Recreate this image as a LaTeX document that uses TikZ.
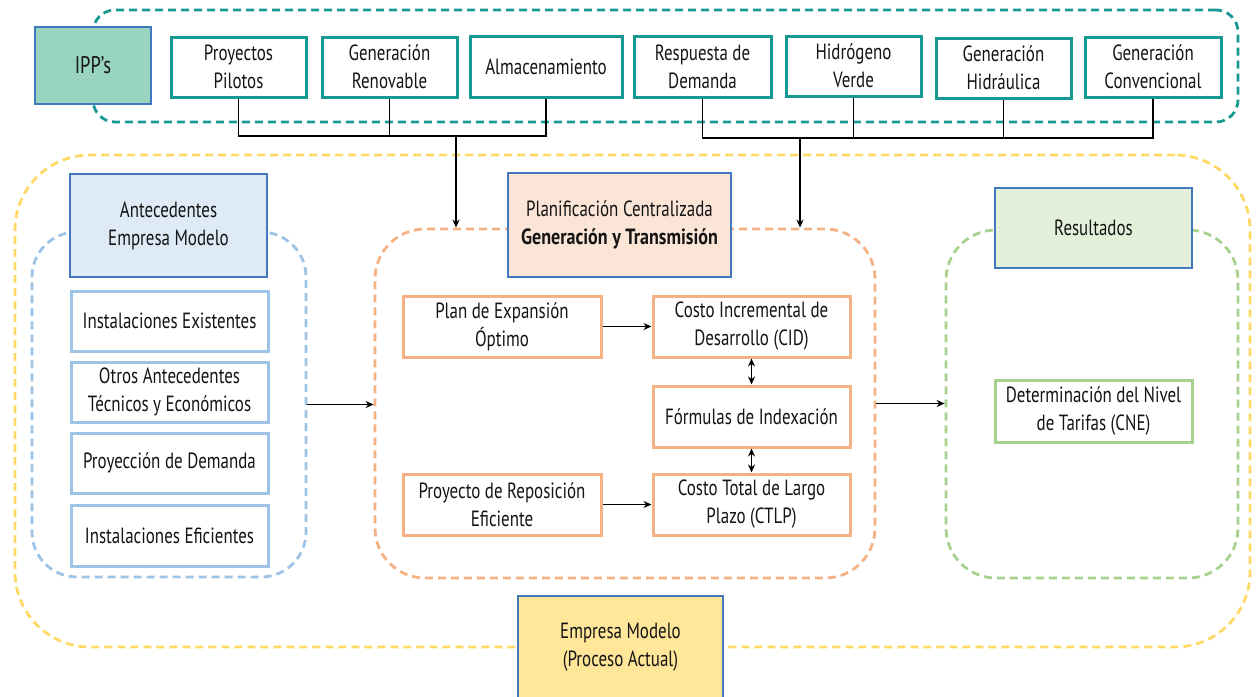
\documentclass[tikz,border=0pt]{standalone}
\usepackage{fontspec}
\setmainfont[FakeStretch=0.77, BoldFeatures={FakeStretch=0.82}]{PT Sans}
\usetikzlibrary{arrows.meta}

\definecolor{tealc}{RGB}{24,152,146}
\definecolor{ippfill}{RGB}{153,212,190}
\definecolor{hdrblue}{RGB}{66,120,190}
\definecolor{yelc}{RGB}{255,217,102}
\definecolor{bluec}{RGB}{157,195,230}
\definecolor{orgc}{RGB}{244,177,131}
\definecolor{grnc}{RGB}{169,209,142}
\definecolor{antfill}{RGB}{222,235,247}
\definecolor{plafill}{RGB}{251,229,214}
\definecolor{resfill}{RGB}{226,240,217}
\definecolor{empfill}{RGB}{255,230,153}
\definecolor{txt}{RGB}{20,20,20}

\begin{document}
\begin{tikzpicture}[x=1pt,y=-1pt,
  txtstyle/.style={align=center, text=txt, font=\fontsize{22}{28}\selectfont},
  box/.style={txtstyle, draw, line width=3pt, fill=white, inner sep=0pt},
  hdr/.style={txtstyle, draw=hdrblue, line width=1.8pt, inner sep=0pt},
  cont/.style={draw, line width=2.8pt, dash pattern=on 8pt off 5pt, inner sep=0pt},
  conn/.style={line width=1.8pt, black},
  arr/.style={conn, -{Stealth[length=8pt,width=7pt]}},
  darr/.style={conn, {Stealth[length=8pt,width=7pt]}-{Stealth[length=8pt,width=7pt]}}
]
\useasboundingbox (0,0) rectangle (1257,696);

% dashed group frames
\node[cont, draw=tealc, rounded corners=22pt, minimum width=1145pt, minimum height=112pt] (ippg) at (665.5,66) {};
\node[cont, draw=yelc, rounded corners=75pt, minimum width=1235pt, minimum height=492pt] (empg) at (632.5,401) {};
\node[cont, draw=bluec, rounded corners=45pt, minimum width=274pt, minimum height=345pt] (antg) at (169,404.5) {};
\node[cont, draw=orgc, rounded corners=50pt, minimum width=500pt, minimum height=349pt] (plag) at (625,403.5) {};
\node[cont, draw=grnc, rounded corners=50pt, minimum width=292pt, minimum height=348pt] (resg) at (1092,404) {};

% IPP row
\node[hdr, fill=ippfill, minimum width=116pt, minimum height=77pt, font=\fontsize{24}{28}\selectfont] (ipp) at (93,65.5) {IPP’s};
\node[box, draw=tealc, minimum width=135pt, minimum height=60pt] (p1) at (238.5,67) {Proyectos\\Pilotos};
\node[box, draw=tealc, minimum width=135pt, minimum height=60pt] (p2) at (389.5,67) {Generación\\Renovable};
\node[box, draw=tealc, minimum width=152pt, minimum height=61pt] (p3) at (546,66.5) {Almacenamiento};
\node[box, draw=tealc, minimum width=137pt, minimum height=61pt] (p4) at (702.5,66.5) {Respuesta de\\Demanda};
\node[box, draw=tealc, minimum width=135pt, minimum height=60pt] (p5) at (853.5,66) {Hidrógeno\\Verde};
\node[box, draw=tealc, minimum width=135pt, minimum height=60pt] (p6) at (1003.5,68) {Generación\\Hidráulica};
\node[box, draw=tealc, minimum width=136pt, minimum height=60pt] (p7) at (1153,67) {Generación\\Convencional};

% Antecedentes column
\node[hdr, fill=antfill, minimum width=197pt, minimum height=103pt] (ant) at (168.5,225.5) {Antecedentes\\Empresa Modelo};
\node[box, draw=bluec, minimum width=197pt, minimum height=60pt] (b1) at (169.5,321) {Instalaciones Existentes};
\node[box, draw=bluec, minimum width=197pt, minimum height=60pt] (b2) at (169.5,392) {Otros Antecedentes\\Técnicos y Económicos};
\node[box, draw=bluec, minimum width=197pt, minimum height=60pt] (b3) at (169.5,463) {Proyección de Demanda};
\node[box, draw=bluec, minimum width=197pt, minimum height=61pt] (b4) at (169.5,535.5) {Instalaciones Eficientes};

% Planificación column
\node[hdr, fill=plafill, minimum width=223pt, minimum height=104pt] (pla) at (619.5,225) {Planificación Centralizada\\\textbf{Generación y Transmisión}};
\node[box, draw=orgc, minimum width=198pt, minimum height=61pt] (o1) at (502,326.5) {Plan de Expansión\\Óptimo};
\node[box, draw=orgc, minimum width=197pt, minimum height=61pt] (o2) at (751.5,326.5) {Costo Incremental de\\Desarrollo (CID)};
\node[box, draw=orgc, minimum width=197pt, minimum height=61pt] (o3) at (751.5,416.5) {Fórmulas de Indexación};
\node[box, draw=orgc, minimum width=198pt, minimum height=61pt] (o4) at (502,504.5) {Proyecto de Reposición\\Eficiente};
\node[box, draw=orgc, minimum width=197pt, minimum height=61pt] (o5) at (751.5,504.5) {Costo Total de Largo\\Plazo (CTLP)};

% Resultados column
\node[hdr, fill=resfill, minimum width=197pt, minimum height=80pt] (res) at (1093.5,228) {Resultados};
\node[box, draw=grnc, minimum width=197pt, minimum height=62pt] (r1) at (1093.5,411) {Determinación del Nivel\\de Tarifas (CNE)};

% Empresa Modelo label
\node[hdr, fill=empfill, minimum width=205pt, minimum height=102pt] (emp) at (620.5,647) {Empresa Modelo\\(Proceso Actual)};

% bus connectors from the IPP row
\coordinate (jl) at (456,136);
\coordinate (jr) at (800,138);
\draw[conn] (p1.south) |- (jl);
\draw[conn] (p2.south) |- (jl);
\draw[conn] (p3.south) |- (jl);
\draw[arr] (jl) -- (jl |- plag.north);
\draw[conn] (p4.south) |- (jr);
\draw[conn] (p5.south) |- (jr);
\draw[conn] (p6.south) |- (jr);
\draw[conn] (p7.south) |- (jr);
\draw[arr] (jr) -- (jr |- plag.north);

% flow between groups
\draw[arr] (antg.east) -- (antg.east -| plag.west);
\draw[arr] (plag.east) -- (plag.east -| resg.west);

% flow inside Planificación
\draw[arr] (o1.east) -- (o2.west);
\draw[arr] (o4.east) -- (o5.west);
\draw[darr] (o2.south) -- (o3.north);
\draw[darr] (o3.south) -- (o5.north);
\end{tikzpicture}
\end{document}
